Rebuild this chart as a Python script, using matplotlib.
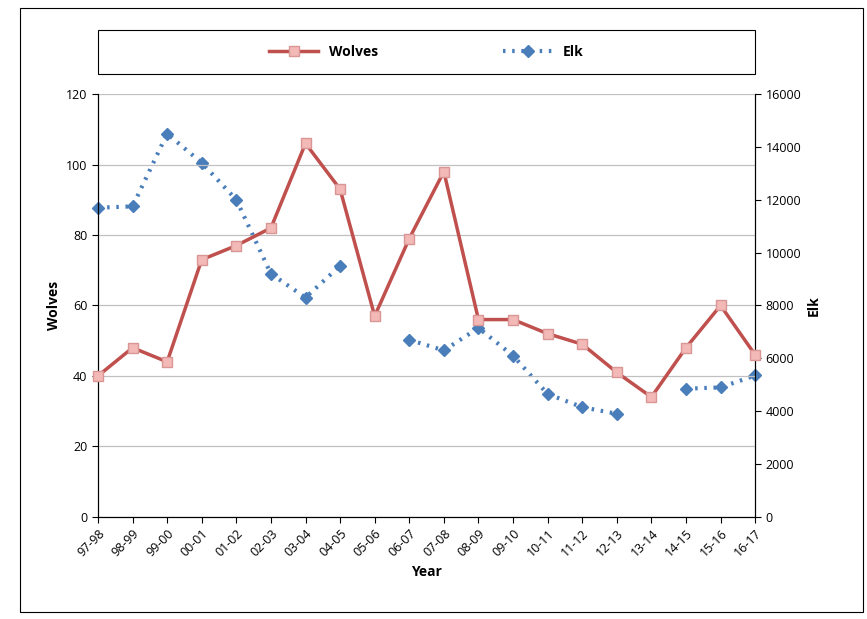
import matplotlib
matplotlib.use("Agg")
import matplotlib.pyplot as plt
import numpy as np

years = ["97-98","98-99","99-00","00-01","01-02","02-03","03-04","04-05","05-06","06-07",
         "07-08","08-09","09-10","10-11","11-12","12-13","13-14","14-15","15-16","16-17"]
wolves = [40,48,44,73,77,82,106,93,57,79,98,56,56,52,49,41,34,48,60,46]
elk = [11700,11750,14500,13400,12000,9200,8300,9500,np.nan,6700,6300,7150,6100,4650,4150,3900,np.nan,4850,4900,5350]

plt.rcParams['font.family'] = ['Open Sans', 'DejaVu Sans']
fig = plt.figure(figsize=(8.67, 6.19), dpi=100)
fig.patches.append(matplotlib.patches.Rectangle((0.023, 0.012), 0.972, 0.975, transform=fig.transFigure,
                   fill=False, edgecolor='black', lw=0.8))
ax = fig.add_axes([0.113, 0.165, 0.758, 0.683])
ax2 = ax.twinx()
x = np.arange(len(years))
ax.plot(x, wolves, color='#c0504d', lw=2.5, marker='s', ms=7.5, mfc='#f2b9b7', mec='#d99694', label='Wolves', zorder=3, clip_on=False)
ax2.plot(x, elk, color='#4a7ebb', lw=3, ls=(0, (0.6, 1.6)), marker='D', ms=6.5, mfc='#4a7ebb', mec='#4a7ebb', label='Elk', clip_on=False)
ax.set_zorder(ax2.get_zorder()+1); ax.patch.set_visible(False)
ax.set_ylim(0, 120); ax.set_yticks(range(0, 121, 20))
ax2.set_ylim(0, 16000); ax2.set_yticks(range(0, 16001, 2000))
ax.set_xlim(0, len(years)-1)
ax.set_xticks(x); ax.set_xticklabels(years, rotation=45, ha='right', rotation_mode='anchor', fontsize=9)
ax.grid(axis='y', color='#c0c0c0', lw=0.9)
ax.set_axisbelow(True)
for a in (ax, ax2):
    a.tick_params(labelsize=9, color='black', length=4)
    a.spines['top'].set_visible(False)
ax.set_ylabel('Wolves', fontweight='bold', fontsize=10)
ax2.set_ylabel('Elk', fontweight='bold', fontsize=10)
ax.set_xlabel('Year', fontweight='bold', fontsize=10)
h1, l1 = ax.get_legend_handles_labels(); h2, l2 = ax2.get_legend_handles_labels()
leg = fig.legend(h1+h2, l1+l2, loc='center', bbox_to_anchor=(0.113, 0.88, 0.758, 0.072), ncol=2,
                 frameon=True, fancybox=False, edgecolor='black', prop={'weight':'bold','size':10},
                 handlelength=3.5, columnspacing=9)
fig.patches.append(matplotlib.patches.Rectangle((0.113, 0.88), 0.758, 0.072, transform=fig.transFigure,
                   fill=False, edgecolor='black', lw=0.8))
leg.get_frame().set_visible(False)
fig.savefig('out.png', dpi=100)
